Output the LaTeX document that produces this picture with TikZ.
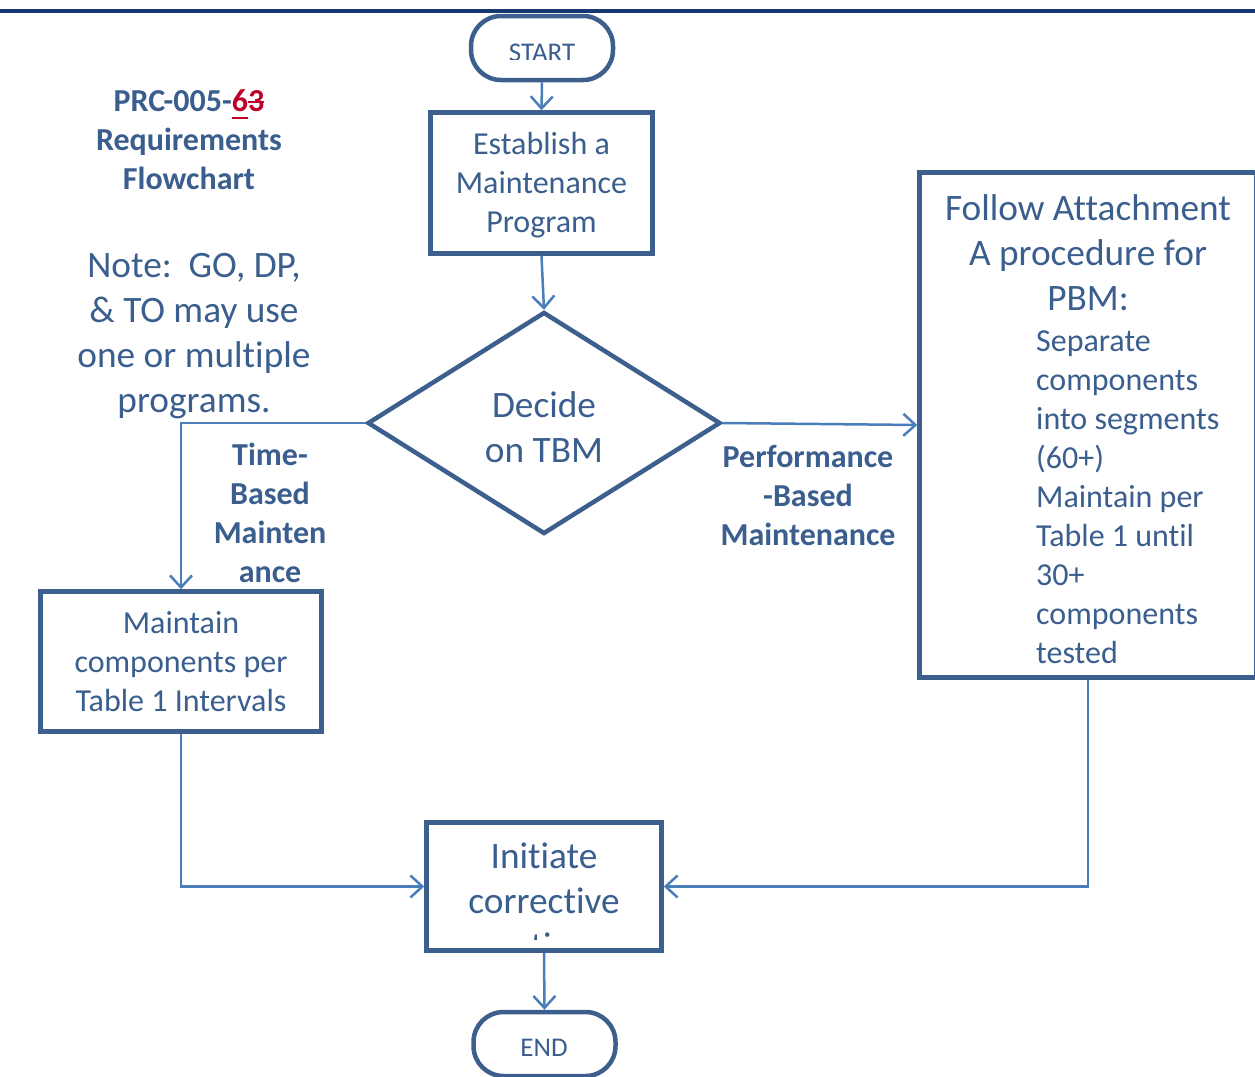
\documentclass[tikz,border=0pt]{standalone}
\usepackage{fontspec}
\setmainfont{Carlito}[Ligatures=NoCommon]
\usetikzlibrary{arrows.meta,shapes.geometric}
\definecolor{boxblue}{RGB}{60,95,142}
\definecolor{textblue}{RGB}{58,94,142}
\definecolor{linkblue}{RGB}{74,126,187}
\definecolor{navy}{RGB}{23,55,112}
\definecolor{redmark}{RGB}{192,0,40}
\newsavebox{\markbox}
\newcommand{\mystrike}[1]{\sbox{\markbox}{#1}\rlap{\usebox{\markbox}}\rule[0.26em]{\wd\markbox}{0.07em}}
\newcommand{\myunder}[1]{\sbox{\markbox}{#1}\rlap{\usebox{\markbox}}\rule[-0.24em]{\wd\markbox}{0.09em}}
\begin{document}
\begin{tikzpicture}[x=1pt,y=-1pt,
  box/.style={draw=boxblue, line width=4.5pt, fill=white, inner sep=0pt, text=textblue, align=center},
  term/.style={box, rounded corners=30pt},
  dia/.style={box, diamond},
  link/.style={draw=linkblue, line width=2.5pt, -{Straight Barb[length=12pt,width=22pt]}},
  txt/.style={text=textblue, inner sep=0pt, align=center},
  fmid/.style={font=\fontsize{32}{39}\selectfont},
  fbig/.style={font=\fontsize{37.3}{45}\selectfont},
  fbold/.style={font=\fontsize{32}{39}\selectfont\bfseries},
  fsmall/.style={font=\fontsize{27}{30}\selectfont}]
\useasboundingbox (0,0) rectangle (1255,1076);
\clip (0,0) rectangle (1255,1076);
\draw[navy, line width=4pt] (0,11) -- (1255,11);

% nodes
\node[term, minimum width=142pt, minimum height=64pt] (start) at (542,48) {};
\node[box, minimum width=222pt, minimum height=141pt] (estab) at (541.5,183) {};
\node[dia, minimum width=353pt, minimum height=222pt] (decide) at (544,423) {};
\node[box, fmid, minimum width=281pt, minimum height=140pt] (maint) at (181,661.5) {Maintain\\components per\\Table 1 Intervals};
\node[box, minimum width=337pt, minimum height=505pt] (follow) at (1088,425) {};
\node[box, minimum width=235pt, minimum height=128pt] (init) at (544,886.5) {};
\node[term, minimum width=142pt, minimum height=64pt] (end) at (544.5,1044) {};

% texts
\node[txt, fmid] (estabtext) at (541.5,185) {Establish a\\Maintenance\\Program};
\node[txt, fbig] (decidetext) at (544,427) {Decide\\on TBM};
\begin{scope}
\clip (470,20) rectangle (615,59);
\node[txt, fsmall] (starttext) at (542,53) {START};
\end{scope}
\node[txt, fsmall] (endtext) at (544,1048) {END};
\begin{scope}
\clip (427,823) rectangle (661,939);
\node[txt, fbig, anchor=north] (inittext) at (544,843) {Initiate\\corrective\\action};
\end{scope}
\node[txt, fbig] (followhead) at (1088,253) {Follow Attachment\\A procedure for\\PBM:};
\node[txt, fmid, align=left, anchor=west] (followlist) at (1036,497) {Separate\\components\\into segments\\(60+)\\Maintain per\\Table 1 until\\30+\\components\\tested};
\node[txt, fbold] (title) at (189,140) {PRC-005-\textcolor{redmark}{\myunder{6}\mystrike{3}}\\Requirements\\Flowchart};
\node[txt, fbig] (note) at (194,336) {Note:~~GO, DP,\\\&~TO may use\\one or multiple\\programs.};
\node[txt, fbold] (tbmlabel) at (270,513) {Time-\\Based\\Mainten\\ance};
\node[txt, fbold] (pbmlabel) at (808,495) {Performance\\-Based\\Maintenance};

% connectors
\draw[link] (start.south) -- (estab.north);
\draw[link] (estab.south) -- (decide.north);
\draw[link] (decide.west) -| (maint.north);
\draw[link] (decide.east) -- (follow.west);
\draw[link] (maint.south) |- (init.west);
\draw[link] (follow.south) |- (init.east);
\draw[link] (init.south) -- (end.north);
\end{tikzpicture}
\end{document}
